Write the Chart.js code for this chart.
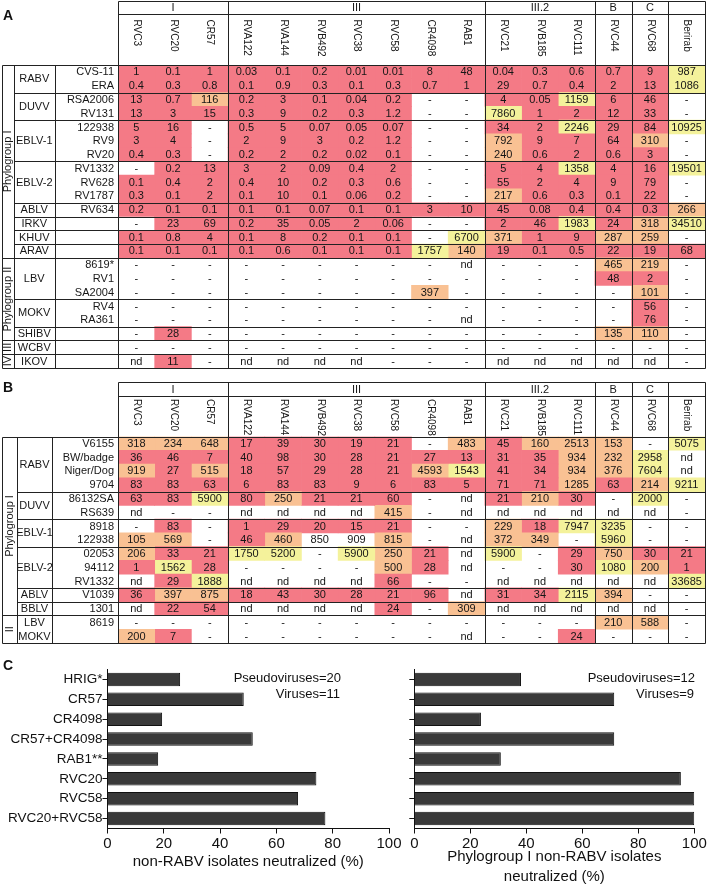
<!DOCTYPE html>
<html><head><meta charset="utf-8">
<script src="https://cdn.jsdelivr.net/npm/chart.js@4.4.1/dist/chart.umd.min.js"></script>
<style>
html,body{margin:0;padding:0;background:#fff;}
body{width:709px;height:887px;position:relative;overflow:hidden;font-family:"Liberation Sans",Arial,Helvetica,sans-serif;}
canvas{position:absolute;}
.lbl{position:absolute;font-weight:bold;font-size:14px;line-height:16px;color:#111;}
</style></head><body>
<canvas id="ta" width="709" height="370" style="left:0;top:0"></canvas>
<canvas id="tb" width="709" height="270" style="left:0;top:378px"></canvas>
<canvas id="c1" width="410" height="232" style="left:0;top:655px"></canvas>
<canvas id="c2" width="309" height="232" style="left:400px;top:655px"></canvas>
<div class="lbl" style="left:3px;top:7px">A</div>
<div class="lbl" style="left:3px;top:379px">B</div>
<div class="lbl" style="left:3px;top:657px">C</div>
<script>
// ---------- shared column structure ----------
const columns = ['RVC3','RVC20','CR57','RVA122','RVA144','RVB492','RVC38','RVC58','CR4098','RAB1','RVC21','RVB185','RVC111','RVC44','RVC68','Berirab'];
const groupLabels = ['I','III','III.2','B','C',''];
const groupSpans = [3,7,3,1,1,1];

// ---------- panel A ----------
const phyloA = ['Phylogroup I','Phylogroup II','III','IV'];
const phyloSpanA = [14,6,1,1];
const speciesA = ['RABV','DUVV','EBLV-1','EBLV-2','ABLV','IRKV','KHUV','ARAV','LBV','MOKV','SHIBV','WCBV','IKOV'];
const speciesSpanA = [2,2,3,3,1,1,1,1,3,2,1,1,1];
const strainsA = ['CVS-11','ERA','RSA2006','RV131','122938','RV9','RV20','RV1332','RV628','RV1787','RV634','','','','8619*','RV1','SA2004','RV4','RA361','','',''];
const valuesA = [
 ['1','0.1','1','0.03','0.1','0.2','0.01','0.01','8','48','0.04','0.3','0.6','0.7','9','987'],
 ['0.4','0.3','0.8','0.1','0.9','0.3','0.1','0.3','0.7','1','29','0.7','0.4','2','13','1086'],
 ['13','0.7','116','0.2','3','0.1','0.04','0.2','-','-','4','0.05','1159','6','46','-'],
 ['13','3','15','0.3','9','0.2','0.3','1.2','-','-','7860','1','2','12','33','-'],
 ['5','16','-','0.5','5','0.07','0.05','0.07','-','-','34','2','2246','29','84','10925'],
 ['3','4','-','2','9','3','0.2','1.2','-','-','792','9','7','64','310','-'],
 ['0.4','0.3','-','0.2','2','0.2','0.02','0.1','-','-','240','0.6','2','0.6','3','-'],
 ['-','0.2','13','3','2','0.09','0.4','2','-','-','5','4','1358','4','16','19501'],
 ['0.1','0.4','2','0.4','10','0.2','0.3','0.6','-','-','55','2','4','9','79','-'],
 ['0.3','0.1','2','0.1','10','0.1','0.06','0.2','-','-','217','0.6','0.3','0.1','22','-'],
 ['0.2','0.1','0.1','0.1','0.1','0.07','0.1','0.1','3','10','45','0.08','0.4','0.4','0.3','266'],
 ['-','23','69','0.2','35','0.05','2','0.06','-','-','2','46','1983','24','318','34510'],
 ['0.1','0.8','4','0.1','8','0.2','0.1','0.1','-','6700','371','1','9','287','259','-'],
 ['0.1','0.1','0.1','0.1','0.6','0.1','0.1','0.1','1757','140','19','0.1','0.5','22','19','68'],
 ['-','-','-','-','-','-','-','-','-','nd','-','-','-','465','219','-'],
 ['-','-','-','-','-','-','-','-','-','-','-','-','-','48','2','-'],
 ['-','-','-','-','-','-','-','-','397','-','-','-','-','-','101','-'],
 ['-','-','-','-','-','-','-','-','-','-','-','-','-','-','56','-'],
 ['-','-','-','-','-','-','-','-','-','nd','-','-','-','-','76','-'],
 ['-','28','-','-','-','-','-','-','-','-','-','-','-','135','110','-'],
 ['-','-','-','-','-','-','-','-','-','-','-','-','-','-','-','-'],
 ['nd','11','-','nd','nd','nd','nd','-','-','-','nd','nd','nd','nd','nd','-']
];
// cell shading class per cell: r = red, o = orange, y = yellow, w = none
const shadeA = [
 'rrrrrrrrrrrrrrry','rrrrrrrrrrrrrrry','rrorrrrrwwrryrrw','rrrrrrrrwwyrrrrw',
 'rrwrrrrrwwrryrry','rrwrrrrrwworrrow','rrwrrrrrwworrrrw','wrrrrrrrwwrryrry',
 'rrrrrrrrwwrrrrrw','rrrrrrrrwworrrrw','rrrrrrrrrrrrrrro','wrrrrrrrwwrryroy',
 'rrrrrrrrwyorroow','rrrrrrrryorrrrrr','wwwwwwwwwwwwwoow','wwwwwwwwwwwwwrrw',
 'wwwwwwwwowwwwwow','wwwwwwwwwwwwwwrw','wwwwwwwwwwwwwwrw','wrwwwwwwwwwwwoow',
 'wwwwwwwwwwwwwwww','wrwwwwwwwwwwwwww'
];

// ---------- panel B ----------
const phyloB = ['Phylogroup I','II'];
const phyloSpanB = [13,2];
const speciesB = ['RABV','DUVV','EBLV-1','EBLV-2','ABLV','BBLV','LBV','MOKV'];
const speciesSpanB = [4,2,2,3,1,1,1,1];
const strainsB = ['V6155','BW/badge','Niger/Dog','9704','86132SA','RS639','8918','122938','02053','94112','RV1332','V1039','1301','8619',''];
const valuesB = [
 ['318','234','648','17','39','30','19','21','-','483','45','160','2513','153','-','5075'],
 ['36','46','7','40','98','30','28','21','27','13','31','35','934','232','2958','nd'],
 ['919','27','515','18','57','29','28','21','4593','1543','41','34','934','376','7604','nd'],
 ['83','83','63','6','83','83','9','6','83','5','71','71','1285','63','214','9211'],
 ['63','83','5900','80','250','21','21','60','-','nd','21','210','30','-','2000','-'],
 ['nd','-','-','nd','nd','nd','nd','415','-','nd','nd','nd','nd','nd','nd','-'],
 ['-','83','-','1','29','20','15','21','-','-','229','18','7947','3235','-','-'],
 ['105','569','-','46','460','850','909','815','-','nd','372','349','-','5960','-','-'],
 ['206','33','21','1750','5200','-','5900','250','21','nd','5900','-','29','750','30','21'],
 ['1','1562','28','-','-','-','-','500','28','nd','-','-','30','1080','200','1'],
 ['nd','29','1888','nd','nd','nd','nd','66','-','-','nd','nd','nd','nd','nd','33685'],
 ['36','397','875','18','43','30','28','21','96','nd','31','34','2115','394','-','-'],
 ['nd','22','54','nd','nd','nd','nd','24','-','309','nd','nd','nd','nd','nd','-'],
 ['-','-','-','-','-','-','-','-','-','-','-','-','-','210','588','-'],
 ['200','7','-','-','-','-','-','-','-','nd','-','-','24','-','-','-']
];
const shadeB = [
 'ooorrrrrworooowy','rrrrrrrrrrrrooyw','ororrrrroyrrooyw','rrrrrrrrrrrroroy',
 'rryrorrrwwrorwyw','wwwwwwwowwwwwwww','wrwrrrrrwworyyww','oowrowwowwoowyww',
 'orryywyorwywrorr','ryrwwwworwwwryor','wrywwwwrwwwwwwwy','roorrrrrrwrryoww',
 'wrrwwwwrwowwwwww','wwwwwwwwwwwwwoow','orwwwwwwwwwwrwww'
];

// ---------- panel C ----------
const barLabels = ['HRIG*','CR57','CR4098','CR57+CR4098','RAB1**','RVC20','RVC58','RVC20+RVC58'];
const nonRabvNeutralized = [25.8, 48.4, 19.4, 51.6, 18.0, 74.2, 67.7, 77.4];
const phyloINeutralized = [38.1, 71.4, 23.8, 71.4, 30.9, 95.2, 100, 100];
const xTicks = [0, 20, 40, 60, 80, 100];
const notesLeft = ['Pseudoviruses=20', 'Viruses=11'];
const notesRight = ['Pseudoviruses=12', 'Viruses=9'];

// ---------- drawing ----------
const FONT = '"Liberation Sans", Arial, Helvetica, sans-serif';
const SHADE = {r:'#F47A86', o:'#F9C193', y:'#F4F29B', w:'rgba(255,255,255,0)'};
Chart.defaults.font.family = FONT;
Chart.defaults.color = '#111';

function tablePlugin(t) {
  return {
    id: 'tbl' + t.id,
    afterDatasetsDraw(chart) {
      const {ctx, chartArea: a, scales} = chart;
      const xs = scales.x, ys = scales.y;
      const n = t.values.length;
      const rh = (a.bottom - a.top) / n;
      const rowEdge = r => a.top + r * rh;
      const px = v => Math.round(v) + 0.5;
      const line = (x1, y1, x2, y2) => { ctx.beginPath(); ctx.moveTo(x1, y1); ctx.lineTo(x2, y2); ctx.stroke(); };
      const [c0, c1, c2] = t.labelCols;
      ctx.save();
      ctx.fillStyle = '#161616';
      ctx.textBaseline = 'middle';
      ctx.font = '11px ' + FONT;
      ctx.textAlign = 'center';
      t.values.forEach((row, r) => row.forEach((v, c) =>
        ctx.fillText(v, xs.getPixelForValue(c + 0.5), ys.getPixelForValue(r) + 0.5)));
      ctx.textAlign = 'right';
      t.strains.forEach((s, r) => ctx.fillText(s, a.left - 4, ys.getPixelForValue(r) + 0.5));
      ctx.textAlign = 'center';
      let r0 = 0; const speciesEdges = [];
      t.species.forEach((s, i) => {
        const sp = t.speciesSpan[i];
        ctx.fillText(s, (c1 + c2) / 2, (rowEdge(r0) + rowEdge(r0 + sp)) / 2 + 0.5);
        r0 += sp; speciesEdges.push(r0);
      });
      r0 = 0; const phyloEdges = new Set();
      t.phylo.forEach((p, i) => {
        const sp = t.phyloSpan[i];
        const cy = (rowEdge(r0) + rowEdge(r0 + sp)) / 2;
        ctx.save(); ctx.translate((c0 + c1) / 2 + 0.5, cy); ctx.rotate(-Math.PI / 2);
        ctx.fillText(p, 0, 0); ctx.restore();
        r0 += sp; phyloEdges.add(r0);
      });
      let g0 = 0; const gEdges = [0];
      const hMid = (t.headerTop + t.groupBottom) / 2;
      groupLabels.forEach((g, i) => {
        const sp = groupSpans[i];
        ctx.fillText(g, (xs.getPixelForValue(g0) + xs.getPixelForValue(g0 + sp)) / 2, hMid + 0.5);
        g0 += sp; gEdges.push(g0);
      });
      ctx.textAlign = 'left';
      ctx.font = '10px ' + FONT;
      columns.forEach((col, c) => {
        ctx.save(); ctx.translate(xs.getPixelForValue(c + 0.5) + 0.5, t.groupBottom + t.nameGap);
        ctx.rotate(Math.PI / 2); ctx.fillText(col, 0, 0); ctx.restore();
      });
      ctx.strokeStyle = '#222'; ctx.lineWidth = 1;
      const R = px(a.right), Lft = px(a.left);
      line(Lft, px(t.headerTop), R, px(t.headerTop));
      line(Lft, px(t.groupBottom), R, px(t.groupBottom));
      gEdges.forEach(k => { const X = px(xs.getPixelForValue(k)); line(X, px(t.headerTop), X, px(a.bottom)); });
      [c0, c1, c2].forEach(X => line(px(X), px(a.top), px(X), px(a.bottom)));
      line(px(c0), px(a.top), R, px(a.top));
      speciesEdges.forEach((e, i) => {
        if (t.noLineAfter.includes(i)) return;
        const Y = px(rowEdge(e));
        line(phyloEdges.has(e) ? px(c0) : px(c1), Y, R, Y);
      });
      ctx.restore();
    }
  };
}

function makeTable(id, t, pad) {
  new Chart(document.getElementById(id), {
    type: 'bar',
    data: {
      labels: t.values.map((_, i) => 'row' + i),
      datasets: columns.map((col, c) => ({
        label: col,
        data: t.values.map(() => 1),
        backgroundColor: ctx => { const row = t.shade[ctx.dataIndex]; return row ? SHADE[row[c]] : SHADE.w; },
        borderWidth: 0, barPercentage: 1, categoryPercentage: 1
      }))
    },
    options: {
      indexAxis: 'y', responsive: false, animation: false, devicePixelRatio: 1, events: [],
      layout: {padding: pad},
      plugins: {legend: {display: false}, tooltip: {enabled: false}},
      scales: {
        x: {type: 'linear', stacked: true, min: 0, max: columns.length, display: false},
        y: {stacked: true, display: false}
      }
    },
    plugins: [tablePlugin(t)]
  });
}

makeTable('ta', {id: 'A', values: valuesA, shade: shadeA, strains: strainsA, species: speciesA, speciesSpan: speciesSpanA,
  phylo: phyloA, phyloSpan: phyloSpanA, noLineAfter: [], labelCols: [1.5, 14, 54.5], headerTop: 1, groupBottom: 13.5, nameGap: 6},
  {left: 118, right: 4, top: 65, bottom: 2});
makeTable('tb', {id: 'B', values: valuesB, shade: shadeB, strains: strainsB, species: speciesB, speciesSpan: speciesSpanB,
  phylo: phyloB, phyloSpan: phyloSpanB, noLineAfter: [6], labelCols: [1.5, 17, 52], headerTop: 4, groupBottom: 18, nameGap: 3},
  {left: 118, right: 4, top: 58.5, bottom: 5});

function notesPlugin(lines, xRight) {
  return {
    id: 'notes',
    afterDraw(chart) {
      const ctx = chart.ctx;
      ctx.save();
      ctx.font = '13px ' + FONT; ctx.fillStyle = '#111';
      ctx.textAlign = 'right'; ctx.textBaseline = 'middle';
      ctx.fillText(lines[0], xRight, 23.5);
      ctx.fillText(lines[1], xRight - 1, 39);
      ctx.restore();
    }
  };
}

function makeBars(id, values, showLabels, yWidth, padRight, title, titlePadBottom, notes, noteX) {
  new Chart(document.getElementById(id), {
    type: 'bar',
    data: {labels: barLabels, datasets: [{data: values, backgroundColor: '#3a3a3a', borderColor: '#111', borderWidth: 1,
      barPercentage: 0.68, categoryPercentage: 1}]},
    options: {
      indexAxis: 'y', responsive: false, animation: false, devicePixelRatio: 1, events: [],
      layout: {padding: {top: 14.5, right: padRight, left: 0, bottom: 0}},
      plugins: {legend: {display: false}, tooltip: {enabled: false}},
      scales: {
        y: {
          grid: {display: true, drawOnChartArea: false, drawTicks: true, tickLength: 5, color: '#111', offset: false},
          border: {display: true, color: '#111', width: 1},
          ticks: {color: '#111', font: {size: 13.5}, padding: 0, callback: function (v) { return showLabels ? this.getLabelForValue(v) : ''; }},
          afterFit: s => { s.width = yWidth; }
        },
        x: {
          min: 0, max: 100,
          afterBuildTicks: s => { s.ticks = xTicks.map(v => ({value: v})); },
          grid: {display: true, drawOnChartArea: false, drawTicks: true, tickLength: 5, color: '#111'},
          border: {display: true, color: '#111', width: 1},
          ticks: {color: '#111', font: {size: 15}, padding: 1, maxRotation: 0, autoSkip: false},
          title: {display: true, text: title, color: '#111', font: {size: 15, lineHeight: 1.33}, padding: {top: 0, bottom: titlePadBottom}},
          afterFit: s => { s.height = 58.5; }
        }
      }
    },
    plugins: [notesPlugin(notes, noteX)]
  });
}

makeBars('c1', nonRabvNeutralized, true, 107.5, 21, 'non-RABV isolates neutralized (%)', 15, notesLeft, 341);
makeBars('c2', phyloINeutralized, false, 14.3, 14.7, ['Phylogroup I non-RABV isolates', 'neutralized (%)'], 0, notesRight, 295);
</script>
</body></html>
